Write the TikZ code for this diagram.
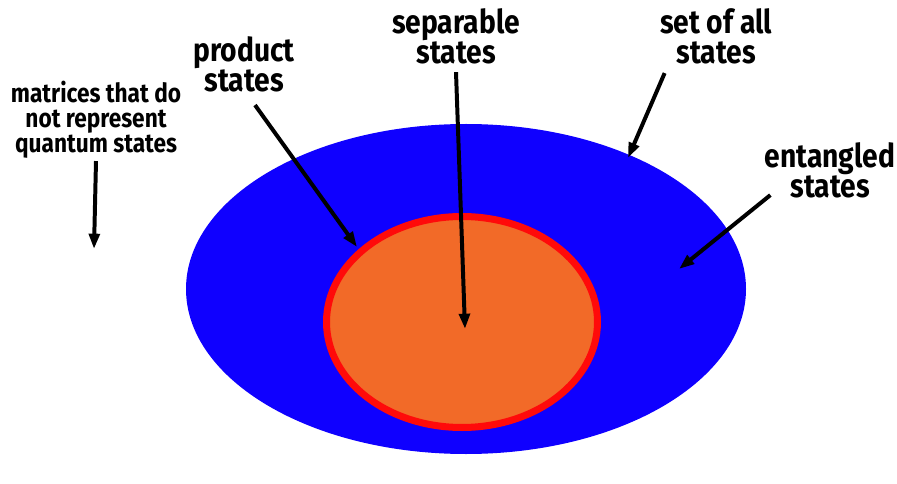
\documentclass[tikz,border=0pt]{standalone}
\usepackage{fontspec}
\setmainfont{Fira Sans}[FakeStretch=0.86]
\usetikzlibrary{arrows.meta,shapes.geometric}

\definecolor{setblue}{HTML}{0F00FF}
\definecolor{sepfill}{HTML}{F26A28}
\definecolor{seprim}{HTML}{FF0A0A}

\tikzset{
  lbl/.style={align=center, inner sep=1pt, font=\bfseries\fontsize{28}{25.5}\selectfont},
  smalllbl/.style={align=center, inner sep=1pt, font=\bfseries\fontsize{22.5}{21.2}\selectfont},
  pointer/.style={line width=3.4pt, -{Triangle[length=4.6mm,width=3.2mm]}},
}

\begin{document}
\begin{tikzpicture}[x=0.03cm, y=-0.03cm]
    \useasboundingbox (0,0) rectangle (897,484);

    % Set of all states
    \node[ellipse, fill=setblue, minimum width=560*0.03cm, minimum height=330*0.03cm, inner sep=0pt] (all) at (466,289) {};

    % Separable states
    \node[ellipse, fill=sepfill, draw=seprim, line width=7*0.03cm, minimum width=271*0.03cm, minimum height=211*0.03cm, inner sep=0pt] (sep) at (462,322) {};

    % Labels
    \node[smalllbl] (nonstate) at (96,120) {matrices that do\\not represent\\quantum states};
    \node[lbl] (prodlbl) at (244,64) {product\\states};
    \node[lbl] (seplbl) at (456,36) {separable\\states};
    \node[lbl] (alllbl) at (716,36) {set of all\\states};
    \node[lbl] (entlbl) at (830,170) {entangled\\states};

    % Arrow tips
    \coordinate (outside) at (94,249);
    \coordinate (prodtip) at (357,247);
    \coordinate (septip) at (465,329);
    \coordinate (alltip) at (628,158);
    \coordinate (enttip) at (679,269);

    % Pointers
    \draw[pointer] ([yshift=-1pt]nonstate.south) -- (outside);
    \draw[pointer] ([shift={(11,12)}]prodlbl.south) -- (prodtip);
    \draw[pointer] ([yshift=-6pt]seplbl.south) -- (septip);
    \draw[pointer] ([shift={(6,8)}]alllbl.south west) -- (alltip);
    \draw[pointer] ([shift={(7,-4)}]entlbl.south west) -- (enttip);
\end{tikzpicture}
\end{document}
